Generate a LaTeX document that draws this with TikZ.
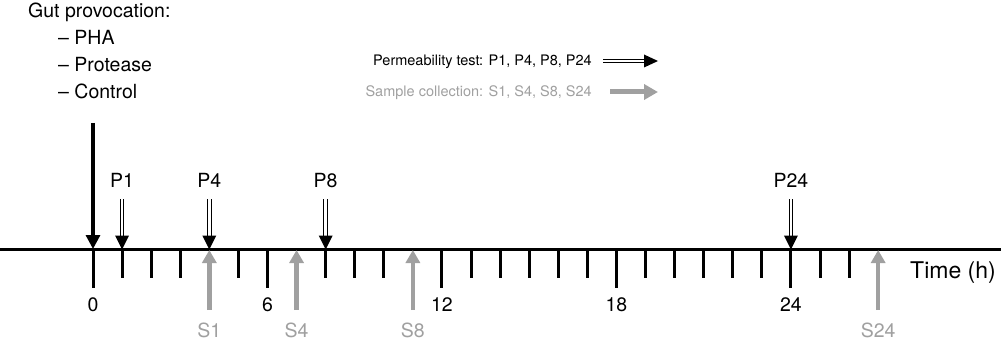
\documentclass[tikz,border=0pt]{standalone}
\usepackage{fontspec}
\setmainfont{TeX Gyre Heros}
\usetikzlibrary{arrows.meta}
\definecolor{lgray}{RGB}{160,160,160}
\begin{document}
\begin{tikzpicture}[x=1pt,y=-1pt,
  axisline/.style={line width=3pt},
  tickline/.style={line width=3pt},
  mainarrow/.style={line width=3.2pt,-{Triangle[width=14pt,length=14pt]}},
  dblshaft/.style={double,double distance=2.4pt,line width=1.2pt},
  dblhead/.style={fill=black},
  sarrow/.style={line width=4.5pt,lgray,-{Triangle[width=14pt,length=13pt]}},
  lbl/.style={font=\fontsize{19.5}{22}\selectfont,inner sep=0pt},
  leg/.style={font=\fontsize{14.5}{17}\selectfont,inner sep=0pt},
  timelbl/.style={font=\fontsize{23}{27}\selectfont,inner sep=0pt}
]
\useasboundingbox (0,0) rectangle (1001,342);
% axis
\coordinate (astart) at (0,249);
\coordinate (aend) at (1001,249);
\draw[axisline] (astart) -- (aend);
% ticks
\foreach \h in {0,1,2,3,5,6,8,9,10,12,13,14,15,16,17,18,19,20,21,22,23,24,25,26}{
  \pgfmathsetmacro{\len}{ifthenelse(mod(\h,6)==0,288,278)}
  \coordinate (t\h a) at ({93+29.08*\h},249);
  \coordinate (t\h b) at ({93+29.08*\h},\len);
  \draw[tickline] (t\h a) -- (t\h b);
}
% hour numbers
\foreach \h in {0,6,12,18,24}{
  \node[lbl,anchor=base] (num\h) at ({93+29.08*\h},311) {\h};
}
% main provocation arrow
\coordinate (mtop) at (93,123);
\draw[mainarrow] (mtop) -- (t0a);
% permeability arrows
\foreach \h/\n in {1/P1,4/P4,8/P8,24/P24}{
  \coordinate (\n top) at ({93+29.08*\h},199);
  \coordinate (\n base) at ({93+29.08*\h},237);
  \coordinate (\n tip) at ({93+29.08*\h},249.5);
  \draw[dblshaft] (\n top) -- (\n base);
  \fill[dblhead] (\n tip) -- ++(-7,-14) -- ++(14,0) -- cycle;
  \node[lbl,anchor=base] (\n lab) at ({93+29.08*\h},187) {\n};
}
% sample arrows
\foreach \h/\n in {4/S1,7/S4,11/S8,27/S24}{
  \coordinate (\n tail) at ({93+29.08*\h},310);
  \coordinate (\n tip) at ({93+29.08*\h},250);
  \draw[sarrow] (\n tail) -- (\n tip);
  \node[lbl,lgray,anchor=base] (\n lab) at ({93+29.08*\h},337) {\n};
}
% time label
\node[timelbl,anchor=base west] (time) at (910,278) {Time (h)};
% gut provocation text
\node[lbl,anchor=base west] (gut) at (28,18) {Gut provocation:};
\node[lbl,anchor=base west] (pha) at (58,45) {– PHA};
\node[lbl,anchor=base west] (prot) at (58,72) {– Protease};
\node[lbl,anchor=base west] (ctrl) at (58,99) {– Control};
% legend
\node[leg,anchor=base east] (legp) at (592,66) {Permeability test: P1, P4, P8, P24};
\node[leg,lgray,anchor=base east] (legs) at (592,97) {Sample collection: S1, S4, S8, S24};
\coordinate (lpa) at (603,61);
\coordinate (lpb) at (645,61);
\coordinate (lpc) at (658,61);
\draw[dblshaft] (lpa) -- (lpb);
\fill[dblhead] (lpc) -- ++(-14,-6.5) -- ++(0,13) -- cycle;
\coordinate (lsa) at (610,92);
\coordinate (lsb) at (658,92);
\draw[sarrow,line width=5pt,-{Triangle[width=15pt,length=14pt]}] (lsa) -- (lsb);
\end{tikzpicture}
\end{document}
